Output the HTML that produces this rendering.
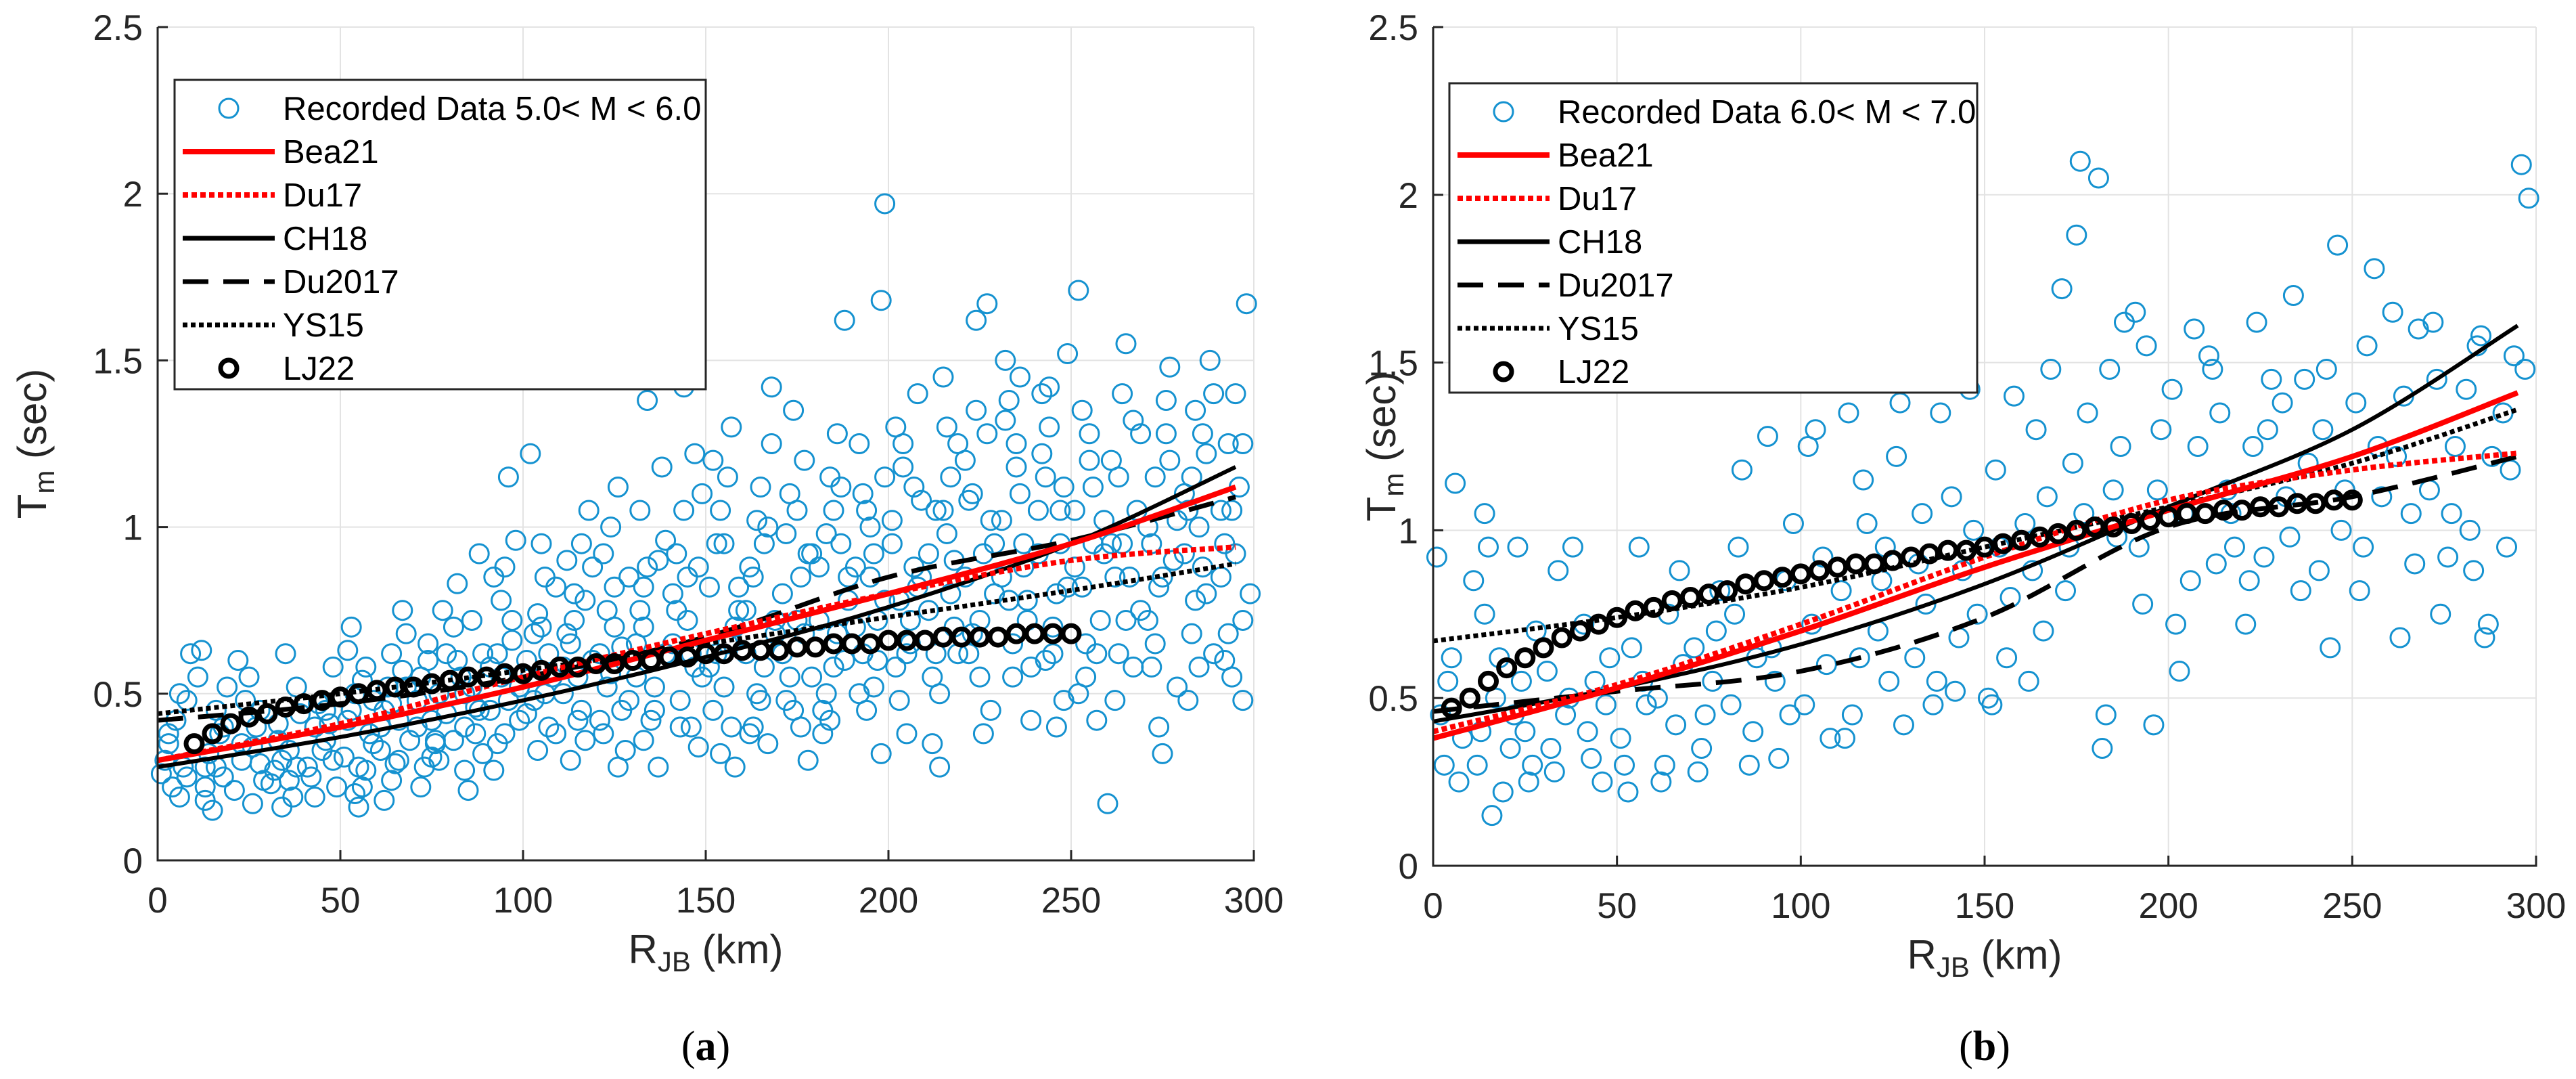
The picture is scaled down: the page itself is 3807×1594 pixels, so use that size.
<!DOCTYPE html>
<html><head><meta charset="utf-8"><style>
html,body{margin:0;padding:0;background:#fff;}
svg{display:block;font-family:"Liberation Sans",sans-serif;}
</style></head><body>
<svg id="fig" width="3807" height="1594" viewBox="0 0 3807 1594" xmlns="http://www.w3.org/2000/svg"></svg>
<script>
// ---------- Panel (a) data ----------
const aScatterX=[2,4,5,7,8,3,9,6,1,
11,13,14,16,18,12,17,19,15,13,
21,23,24,26,28,22,27,29,25,
31,33,34,36,38,32,37,39,35,34,
41,43,44,46,48,42,47,49,45,
51,53,54,56,58,52,57,59,55,53,
61,63,64,66,68,62,67,69,65,64,
71,73,74,76,78,72,77,79,75,74,
81,83,84,86,88,82,87,89,85,84,88,
91,93,94,96,98,92,97,99,95,94,96,
101,103,104,106,108,102,107,109,105,104,106,
111,113,114,116,118,112,117,119,115,114,116,
121,123,124,126,128,122,127,129,125,124,126,
131,133,134,136,138,132,137,139,135,134,136,133,
141,143,144,146,148,142,147,149,145,144,146,148,
151,153,154,156,158,152,157,159,155,154,156,158,
161,163,164,166,168,162,167,169,165,164,166,168,
171,173,174,176,178,172,177,179,175,174,176,178,
181,183,184,186,188,182,187,189,185,184,186,188,
191,193,194,196,198,192,197,199,195,194,196,198,199,
201,203,204,206,208,202,207,209,205,204,206,208,
211,213,214,216,218,212,217,219,215,214,216,218,
221,223,224,226,228,222,227,229,225,224,226,228,
231,233,234,236,238,232,237,239,235,234,236,238,
241,243,244,246,248,242,247,249,245,244,246,248,
251,253,254,256,258,252,257,259,255,254,256,
261,263,264,266,268,262,267,269,265,264,260,
271,273,274,276,278,272,277,279,275,274,276,
281,283,284,286,288,282,287,289,285,284,286,
291,293,294,296,298,292,297,295,294,297,
52,55,57,59,54,56, 62,64,66,68,61,67, 72,75,77,79,71,76, 82,84,86,89,81,87,
91,93,95,97,99,92, 101,103,105,107,109,102, 111,113,115,117,119,112, 121,123,125,127,129,122,
131,133,135,137,139,132, 141,143,145,147,149,142, 151,153,155,157,159,152, 161,163,165,167,169,162,
171,173,175,177,179,172, 181,183,185,187,189,182, 191,193,195,197,199,192, 201,203,205,207,209,202,
211,213,215,217,219,212, 221,223,225,227,229,222, 231,233,235,237,239,232, 241,243,245,247,249,242,
251,253,255,257,259,252, 261,263,265,267,269,262, 271,273,275,277,279,272, 281,283,285,287,289,282,
291,293,295,297,299,292,
3,8,13,18,23,28,33,38,43,48,6,16,26,36,46];
const aScatterY=[0.30,0.22,0.42,0.28,0.48,0.35,0.62,0.19,0.26,
0.55,0.18,0.32,0.45,0.25,0.63,0.38,0.52,0.15,0.28,
0.21,0.35,0.48,0.17,0.29,0.60,0.40,0.24,0.55,
0.23,0.41,0.16,0.33,0.52,0.27,0.19,0.44,0.62,0.30,
0.28,0.19,0.47,0.36,0.58,0.25,0.41,0.22,0.33,
0.31,0.45,0.20,0.54,0.38,0.63,0.27,0.48,0.16,0.70,
0.33,0.52,0.24,0.42,0.68,0.18,0.57,0.36,0.29,0.47,
0.40,0.28,0.60,0.35,0.75,0.22,0.50,0.44,0.31,0.65,
0.36,0.55,0.27,0.72,0.45,0.83,0.38,0.62,0.21,0.50,0.92,
0.58,0.35,0.78,0.48,0.96,0.27,0.66,0.42,0.88,0.55,1.15,
0.44,0.68,0.33,0.85,0.55,1.22,0.62,0.38,0.95,0.74,0.50,
0.58,0.30,0.80,0.45,1.05,0.68,0.36,0.88,0.55,0.72,0.95,
0.42,0.75,0.56,1.12,0.33,0.92,0.64,0.48,0.82,1.00,0.28,
0.65,0.36,0.88,0.52,1.18,0.75,0.28,0.96,0.60,1.38,0.45,0.82,
0.80,0.48,1.05,0.62,0.34,0.92,1.22,0.55,0.72,1.42,0.40,0.88,
0.58,0.95,0.32,1.15,0.70,0.45,1.30,0.82,0.52,1.05,0.65,0.28,
0.75,0.40,1.02,0.58,1.25,0.88,0.35,0.68,1.12,0.50,0.95,1.42,
0.62,1.10,0.45,0.85,0.30,0.98,1.20,0.55,0.72,1.35,0.40,0.92,
0.88,0.50,1.15,0.68,1.62,0.38,0.95,0.78,1.05,0.42,1.28,0.60,
0.70,1.10,0.45,0.92,0.32,1.25,0.60,1.97,0.85,1.05,0.52,1.68,0.78,
0.95,0.48,1.18,0.72,1.40,0.58,0.88,1.08,0.38,1.25,0.65,0.82,
0.75,1.05,0.50,1.30,0.90,0.35,1.15,0.62,1.45,0.28,0.98,0.70,
1.20,0.68,1.62,0.92,0.45,1.08,1.67,0.80,0.55,1.35,0.38,1.02,
0.85,1.38,0.55,1.10,0.72,1.50,0.95,0.42,1.25,0.65,1.45,0.78,
1.05,0.60,1.42,0.80,0.48,1.22,0.95,1.52,0.70,1.30,0.40,1.12,
0.88,1.35,0.55,1.12,0.72,1.71,0.42,1.02,1.28,0.65,0.95,
1.20,0.62,1.40,0.85,1.05,0.48,1.32,0.75,1.55,0.95,0.17,
0.72,1.15,0.40,1.28,0.90,0.58,1.48,1.02,0.32,0.82,1.38,
1.10,0.68,1.35,0.88,1.50,0.48,1.22,0.62,1.00,0.78,1.28,
0.85,1.25,0.55,1.12,1.67,0.95,0.48,1.40,1.05,0.72,
0.42,0.28,0.58,0.35,0.50,0.22, 0.45,0.62,0.30,0.52,0.40,0.75, 0.55,0.42,0.30,0.62,0.48,0.36, 0.60,0.40,0.52,0.32,0.70,0.46,
0.45,0.62,0.38,0.72,0.52,0.85, 0.60,0.48,0.70,0.40,0.82,0.55, 0.50,0.65,0.42,0.78,0.60,0.90, 0.62,0.52,0.70,0.45,0.85,0.38,
0.55,0.70,0.42,0.90,0.62,1.05, 0.65,0.40,0.85,0.58,1.10,0.75, 0.82,0.62,0.95,0.40,0.75,1.20, 0.62,0.85,0.48,1.00,0.72,0.38,
0.80,0.55,1.05,0.68,0.92,0.48, 0.72,0.98,0.58,1.12,0.85,0.45, 0.88,0.62,1.00,0.72,1.15,0.50, 1.02,0.78,0.62,1.12,0.85,1.30,
0.92,0.62,1.05,0.80,1.25,0.55, 0.85,1.10,0.72,1.28,0.95,0.62, 1.02,0.78,1.18,0.88,0.58,1.32, 0.92,1.15,0.62,1.05,0.82,1.40,
1.05,0.82,1.20,0.62,0.92,0.50, 0.95,1.15,0.72,0.58,1.28,0.85, 1.00,0.65,0.85,1.20,0.52,0.95, 0.92,1.15,0.58,0.80,1.40,1.05,
1.05,0.68,0.92,1.25,0.80,0.60,
0.38,0.25,0.22,0.40,0.30,0.45,0.36,0.28,0.40,0.30,0.50,0.28,0.34,0.24,0.45];
const curveX=[0,50,100,150,200,250,295];
const aBea21=[0.30,0.40,0.52,0.66,0.80,0.95,1.12];
const aDu17=[0.30,0.41,0.55,0.68,0.80,0.90,0.94];
const aCH18=[0.28,0.37,0.48,0.61,0.76,0.95,1.18];
const aDu2017=[0.42,0.47,0.55,0.67,0.85,0.96,1.09];
const aYS15=[0.44,0.50,0.57,0.65,0.73,0.81,0.89];
const aLJ22X=[10,15,20,25,30,35,40,45,50,55,60,65,70,75,80,85,90,95,100,105,110,115,120,125,130,135,140,145,150,155,160,165,170,175,180,185,190,195,200,205,210,215,220,225,230,235,240,245,250];
const aLJ22Y=[0.35,0.38,0.41,0.43,0.44,0.46,0.47,0.48,0.49,0.50,0.51,0.52,0.52,0.53,0.54,0.55,0.55,0.56,0.56,0.57,0.58,0.58,0.59,0.59,0.60,0.60,0.61,0.61,0.62,0.62,0.63,0.63,0.63,0.64,0.64,0.65,0.65,0.65,0.66,0.66,0.66,0.67,0.67,0.67,0.67,0.68,0.68,0.68,0.68];

// ---------- Panel (b) data ----------
const bScatterX=[1,3,4,6,8,2,7,5,
11,13,14,16,18,12,15,17,19,14,
21,23,24,26,28,22,27,25,
31,33,34,36,38,32,37,
41,43,44,46,48,42,47,
51,53,54,56,58,52,57,
61,63,64,66,68,62,67,
71,73,74,76,78,72,77,
81,83,84,86,88,82,87,
91,93,94,96,98,92,97,
101,103,104,106,108,102,107,
111,113,114,116,118,112,117,
121,123,124,126,128,122,127,
131,133,134,136,138,132,137,
141,143,144,146,148,142,147,
151,153,154,156,158,152,157,
161,163,164,166,168,162,167,
171,173,174,176,178,172,177,175,
181,183,184,186,188,182,187,185,
191,193,194,196,198,192,197,
201,203,204,206,208,202,207,
211,213,214,216,218,212,217,
221,223,224,226,228,222,227,
231,233,234,236,238,232,237,
241,243,244,246,248,242,247,
251,253,254,256,258,252,257,
261,263,264,266,268,262,267,
271,273,274,276,278,272,277,
281,283,284,286,288,282,287,285,
291,293,294,296,298,292,297];
const bScatterY=[0.92,0.30,0.55,1.14,0.38,0.45,0.25,0.62,
0.85,0.40,1.05,0.15,0.62,0.30,0.95,0.50,0.22,0.75,
0.35,0.95,0.55,0.25,0.70,0.45,0.30,0.40,
0.58,0.28,0.88,0.45,0.95,0.35,0.50,
0.72,0.32,0.55,0.25,0.62,0.40,0.48,
0.38,0.22,0.65,0.95,0.48,0.30,0.55,
0.50,0.30,0.75,0.42,0.60,0.25,0.88,
0.65,0.35,0.45,0.55,0.82,0.28,0.70,
0.48,0.95,1.18,0.30,0.62,0.75,0.40,
1.28,0.55,0.32,0.85,1.02,0.65,0.45,
0.48,0.72,1.30,0.92,0.38,1.25,0.60,
0.82,1.35,0.45,0.62,1.02,0.38,1.15,
0.70,0.95,0.55,1.22,0.42,0.85,1.38,
0.62,1.05,0.78,0.48,1.35,0.90,0.55,
1.10,0.68,0.88,1.42,0.75,0.52,1.00,
0.50,1.18,0.95,0.62,1.40,0.48,0.80,
1.02,0.88,1.30,0.70,1.48,0.55,1.10,
1.72,0.95,1.20,2.10,1.35,0.82,1.05,1.88,
2.05,0.45,1.48,0.98,1.62,0.35,1.25,1.12,
1.65,0.78,1.55,0.42,1.30,0.95,1.12,
1.42,0.58,1.05,0.85,1.25,0.72,1.60,
1.52,0.90,1.35,1.12,0.95,1.48,1.05,
0.72,1.25,1.62,0.92,1.45,0.85,1.30,
1.38,0.98,1.70,0.82,1.20,1.10,1.45,
0.88,1.48,0.65,1.85,1.12,1.30,1.00,
1.38,0.95,1.55,1.78,1.10,0.82,1.25,
1.65,0.68,1.40,1.05,1.60,1.22,0.90,
1.12,1.45,0.75,0.92,1.25,1.62,1.05,
1.42,0.88,1.55,0.68,1.22,1.00,0.72,1.58,
1.35,1.18,1.52,2.09,1.99,0.95,1.48];
const bBea21=[0.38,0.53,0.70,0.89,1.06,1.22,1.41];
const bDu17=[0.40,0.54,0.72,0.92,1.09,1.18,1.23];
const bCH18=[0.43,0.53,0.66,0.84,1.07,1.30,1.61];
const bDu2017=[0.46,0.52,0.58,0.74,1.01,1.10,1.22];
const bYS15=[0.67,0.74,0.83,0.95,1.07,1.20,1.36];
const bLJ22X=[5,10,15,20,25,30,35,40,45,50,55,60,65,70,75,80,85,90,95,100,105,110,115,120,125,130,135,140,145,150,155,160,165,170,175,180,185,190,195,200,205,210,215,220,225,230,235,240,245,250];
const bLJ22Y=[0.47,0.50,0.55,0.59,0.62,0.65,0.68,0.70,0.72,0.74,0.76,0.77,0.79,0.80,0.81,0.82,0.84,0.85,0.86,0.87,0.88,0.89,0.90,0.90,0.91,0.92,0.93,0.94,0.94,0.95,0.96,0.97,0.98,0.99,1.00,1.01,1.01,1.02,1.03,1.04,1.05,1.05,1.06,1.06,1.07,1.07,1.08,1.08,1.09,1.09];

const xTicks=[0,50,100,150,200,250,300];
const xTickLabels=["0","50","100","150","200","250","300"];
const yTicks=[0,0.5,1,1.5,2,2.5];
const yTickLabels=["0","0.5","1","1.5","2","2.5"];

const NS="http://www.w3.org/2000/svg";
const svg=document.getElementById('fig');
function mk(tag,attrs,parent){const e=document.createElementNS(NS,tag);for(const k in attrs)e.setAttribute(k,attrs[k]);(parent||svg).appendChild(e);return e;}
function smoothPath(pts){let d='M'+pts[0][0]+','+pts[0][1];for(let i=0;i<pts.length-1;i++){const p0=pts[i-1]||pts[i],p1=pts[i],p2=pts[i+1],p3=pts[i+2]||p2;const c1x=p1[0]+(p2[0]-p0[0])/6,c1y=p1[1]+(p2[1]-p0[1])/6,c2x=p2[0]-(p3[0]-p1[0])/6,c2y=p2[1]-(p3[1]-p1[1])/6;d+=' C'+c1x+','+c1y+' '+c2x+','+c2y+' '+p2[0]+','+p2[1];}return d;}

function panel(cfg){
  const g=mk('g',{});
  
  
  const X=v=>cfg.x0+(v/300)*(cfg.x1-cfg.x0);
  const Y=v=>cfg.y0-(v/2.5)*(cfg.y0-cfg.y1);
  xTicks.forEach(t=>{const l=mk('line',{x1:X(t),x2:X(t),y1:cfg.y1,y2:cfg.y0,stroke:'#e3e3e3','stroke-width':2},g);});
  yTicks.forEach(t=>{const l=mk('line',{x1:cfg.x0,x2:cfg.x1,y1:Y(t),y2:Y(t),stroke:'#e3e3e3','stroke-width':2},g);});
  const sg=mk('g',{fill:'none',stroke:'#1592d0','stroke-width':3},g);
  
  
  cfg.sx.forEach((v,i)=>{const c=mk('circle',{cx:X(v),cy:Y(cfg.sy[i]),r:14},sg);});
  const styles=[
    ['ch18-curve',cfg.ch18,'#000',6,''],
    ['du2017-curve',cfg.du2017,'#000',7,'38 22'],
    ['ys15-curve',cfg.ys15,'#000',7,'7 5'],
    ['bea21-curve',cfg.bea21,'#ff0000',8,''],
    ['du17-curve',cfg.du17,'#ff0000',8,'8 5']];
  styles.forEach(s=>{const p=mk('path',{d:smoothPath(curveX.map((v,i)=>[X(v),Y(s[1][i])])),fill:'none',stroke:s[2],'stroke-width':s[3],'stroke-dasharray':s[4]},g);});
  const lg=mk('g',{fill:'none',stroke:'#000','stroke-width':7},g);
  
  
  cfg.ljx.forEach((v,i)=>{const c=mk('circle',{cx:X(v),cy:Y(cfg.ljy[i]),r:12},lg);});
  const ax=mk('path',{d:`M${cfg.x0},${cfg.y1} L${cfg.x0},${cfg.y0} L${cfg.x1},${cfg.y0} L${cfg.x1},${cfg.y0-14}`,fill:'none',stroke:'#262626','stroke-width':3},g);
  
  xTicks.forEach((t,i)=>{const l=mk('line',{x1:X(t),x2:X(t),y1:cfg.y0,y2:cfg.y0-15,stroke:'#262626','stroke-width':3},g);
    const tx=mk('text',{x:X(t),y:cfg.y0+77,'font-size':53,'text-anchor':'middle',fill:'#262626'},g);tx.textContent=xTickLabels[i];});
  yTicks.forEach((t,i)=>{const l=mk('line',{x1:cfg.x0,x2:cfg.x0+15,y1:Y(t),y2:Y(t),stroke:'#262626','stroke-width':3},g);
    const tx=mk('text',{x:cfg.x0-22,y:Y(t)+19,'font-size':53,'text-anchor':'end',fill:'#262626'},g);tx.textContent=yTickLabels[i];});
  const yt=mk('text',{x:0,y:0,'font-size':60,'text-anchor':'middle',fill:'#262626',transform:`translate(${cfg.ylx},${(cfg.y0+cfg.y1)/2}) rotate(-90)`},g);
  yt.innerHTML='T<tspan font-size="42" dy="12">m</tspan><tspan dy="-12"> (sec)</tspan>';
  
  const xt=mk('text',{x:(cfg.x0+cfg.x1)/2,y:cfg.y0+152,'font-size':60,'text-anchor':'middle',fill:'#262626'},g);
  xt.innerHTML='R<tspan font-size="42" dy="12">JB</tspan><tspan dy="-12"> (km)</tspan>';
  
  const cap=mk('text',{x:(cfg.x0+cfg.x1)/2,y:1566,'font-size':62,'text-anchor':'middle',fill:'#000','font-family':'Liberation Serif, serif'},g);
  cap.innerHTML='(<tspan font-weight="bold">'+cfg.letter+'</tspan>)';
  
  const L=mk('g',{},g);
  
  const lx=cfg.lx,ly=cfg.ly,lw=cfg.lw,rh=64;
  mk('rect',{x:lx,y:ly,width:lw,height:457,fill:'#fff',stroke:'#262626','stroke-width':3},L);
  const entries=[[cfg.label,'pt'],['Bea21','#ff0000',8,''],['Du17','#ff0000',8,'8 5'],['CH18','#000',7,''],['Du2017','#000',7,'38 22'],['YS15','#000',7,'7 5'],['LJ22','lj']];
  entries.forEach((e,i)=>{const cy=ly+42+i*rh;
    const eg=mk('g',{},L);
    if(e[1]==='pt')mk('circle',{cx:lx+80,cy:cy,r:14,fill:'none',stroke:'#1592d0','stroke-width':3},eg);
    else if(e[1]==='lj')mk('circle',{cx:lx+80,cy:cy,r:12,fill:'none',stroke:'#000','stroke-width':7},eg);
    else mk('line',{x1:lx+12,x2:lx+148,y1:cy,y2:cy,stroke:e[1],'stroke-width':e[2],'stroke-dasharray':e[3]},eg);
    const t=mk('text',{x:lx+160,y:cy+17,'font-size':49,fill:'#000'},eg);t.textContent=e[0];});
}
panel({name:'panel-a',letter:'a',x0:233,x1:1853,y0:1271,y1:40,ylx:68,lx:258,ly:118,lw:785,label:'Recorded Data 5.0< M < 6.0',
  sx:aScatterX,sy:aScatterY,bea21:aBea21,du17:aDu17,ch18:aCH18,du2017:aDu2017,ys15:aYS15,ljx:aLJ22X,ljy:aLJ22Y});
panel({name:'panel-b',letter:'b',x0:2118,x1:3748,y0:1279,y1:40,ylx:2062,lx:2142,ly:123,lw:780,label:'Recorded Data 6.0< M < 7.0',
  sx:bScatterX,sy:bScatterY,bea21:bBea21,du17:bDu17,ch18:bCH18,du2017:bDu2017,ys15:bYS15,ljx:bLJ22X,ljy:bLJ22Y});
</script>
</body></html>
